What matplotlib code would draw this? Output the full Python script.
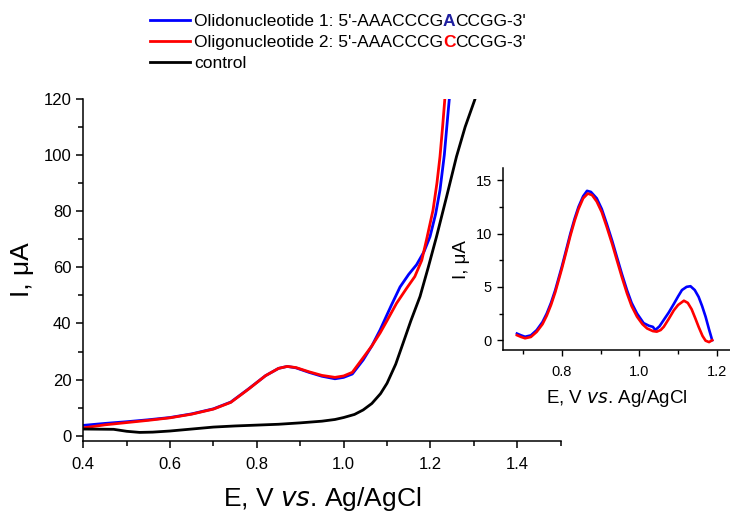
import matplotlib
matplotlib.use("Agg")
import matplotlib.pyplot as plt
from matplotlib.ticker import MultipleLocator

plt.rcParams['font.family'] = ['Liberation Sans', 'DejaVu Sans']

# main chart data (E in V, I in uA)
blue_x = [0.40, 0.45, 0.50, 0.55, 0.60, 0.65, 0.70, 0.74, 0.78, 0.82, 0.85, 0.87, 0.89, 0.92,
          0.95, 0.98, 1.00, 1.02, 1.045, 1.065, 1.084, 1.11, 1.13, 1.15, 1.168, 1.185, 1.199,
          1.212, 1.222, 1.232, 1.240, 1.247]
blue_y = [3.7, 4.4, 5.0, 5.7, 6.5, 7.8, 9.6, 12.0, 16.6, 21.4, 24.0, 24.7, 24.2, 22.6,
          21.2, 20.3, 20.8, 22.0, 27.0, 32.0, 37.7, 46.5, 53.0, 57.5, 60.9, 65.5, 70.9,
          79.0, 87.5, 100.0, 114.0, 126.0]

red_x = [0.40, 0.45, 0.50, 0.55, 0.60, 0.65, 0.70, 0.74, 0.78, 0.82, 0.85, 0.87, 0.89, 0.92,
         0.95, 0.98, 1.00, 1.02, 1.045, 1.065, 1.084, 1.10, 1.122, 1.145, 1.164, 1.18, 1.191,
         1.206, 1.215, 1.222, 1.228, 1.233, 1.237]
red_y = [2.8, 3.9, 4.7, 5.5, 6.4, 7.7, 9.5, 11.9, 16.5, 21.4, 24.0, 24.7, 24.3, 22.8,
         21.5, 20.8, 21.3, 22.6, 27.8, 32.0, 36.6, 41.0, 47.2, 52.5, 56.7, 62.5, 69.8,
         80.4, 90.0, 99.4, 110.0, 119.6, 128.0]

ctrl_x = [0.40, 0.47, 0.50, 0.53, 0.56, 0.60, 0.65, 0.70, 0.75, 0.80, 0.85, 0.90, 0.95, 0.98,
          1.00, 1.025, 1.045, 1.065, 1.085, 1.10, 1.12, 1.137, 1.155, 1.176, 1.195, 1.214,
          1.237, 1.26, 1.28, 1.302]
ctrl_y = [2.4, 2.3, 1.6, 1.2, 1.3, 1.7, 2.4, 3.1, 3.5, 3.8, 4.1, 4.6, 5.2, 5.8,
          6.5, 7.6, 9.2, 11.5, 15.0, 18.7, 25.5, 33.0, 41.0, 49.6, 60.0, 70.9,
          85.0, 99.4, 110.0, 119.6]

# inset data (background subtracted)
in_blue_x = [0.684, 0.695, 0.705, 0.72, 0.735, 0.75, 0.761, 0.772, 0.783, 0.80, 0.81, 0.822,
             0.833, 0.843, 0.855, 0.865, 0.875, 0.89, 0.903, 0.916, 0.93, 0.942, 0.955, 0.968,
             0.98, 0.994, 1.011, 1.025, 1.035, 1.041, 1.052, 1.063, 1.076, 1.089, 1.10, 1.11,
             1.122, 1.132, 1.143, 1.153, 1.162, 1.171, 1.18, 1.188]
in_blue_y = [0.62, 0.45, 0.32, 0.45, 0.94, 1.7, 2.5, 3.5, 4.7, 6.9, 8.3, 10.0,
             11.4, 12.5, 13.5, 14.0, 13.9, 13.3, 12.3, 10.9, 9.3, 7.8, 6.2, 4.7,
             3.5, 2.5, 1.6, 1.35, 1.25, 0.95, 1.3, 1.9, 2.6, 3.4, 4.1, 4.7,
             5.0, 5.06, 4.7, 4.06, 3.2, 2.2, 1.0, 0.0]

in_red_x = [0.684, 0.695, 0.705, 0.72, 0.735, 0.75, 0.761, 0.772, 0.783, 0.80, 0.81, 0.822,
            0.833, 0.843, 0.855, 0.867, 0.878, 0.89, 0.903, 0.916, 0.93, 0.942, 0.955, 0.968,
            0.98, 0.994, 1.008, 1.02, 1.035, 1.045, 1.055, 1.063, 1.076, 1.089, 1.10, 1.115,
            1.125, 1.135, 1.145, 1.153, 1.163, 1.171, 1.18, 1.188]
in_red_y = [0.47, 0.3, 0.18, 0.3, 0.78, 1.5, 2.3, 3.3, 4.5, 6.7, 8.1, 9.8,
            11.2, 12.3, 13.3, 13.75, 13.6, 13.0, 12.0, 10.6, 9.0, 7.5, 5.9, 4.4,
            3.2, 2.2, 1.5, 1.1, 0.85, 0.8, 0.95, 1.25, 2.0, 2.8, 3.3, 3.7,
            3.5, 2.9, 2.0, 1.25, 0.4, -0.05, -0.18, 0.0]

# legend labels, split round the coloured base letter
label_1 = ["Olidonucleotide 1: 5'-AAACCCG", "A", "CCGG-3'"]
label_2 = ["Oligonucleotide 2: 5'-AAACCCG", "C", "CCGG-3'"]
label_3 = "control"

fig = plt.figure(figsize=(7.3, 5.12), dpi=100)

# main axes
ax = fig.add_axes([0.114, 0.139, 0.654, 0.668])
l1, = ax.plot(blue_x, blue_y, color='#0000ff', lw=2.0)
l2, = ax.plot(red_x, red_y, color='#ff0000', lw=2.0)
l3, = ax.plot(ctrl_x, ctrl_y, color='black', lw=2.0)
ax.set_xlim(0.4, 1.5)
ax.set_ylim(-1.8, 120)
ax.spines['top'].set_visible(False)
ax.spines['right'].set_visible(False)
for s in ('left', 'bottom'):
    ax.spines[s].set_linewidth(1.1)
ax.xaxis.set_major_locator(MultipleLocator(0.2))
ax.xaxis.set_minor_locator(MultipleLocator(0.1))
ax.yaxis.set_major_locator(MultipleLocator(20))
ax.yaxis.set_minor_locator(MultipleLocator(10))
ax.xaxis.set_major_formatter(plt.FormatStrFormatter('%.1f'))
ax.tick_params(which='major', direction='out', length=5, width=1.1, labelsize=12)
ax.tick_params(axis='x', which='major', pad=7)
ax.tick_params(which='minor', direction='out', length=3.5, width=1.1)
ax.set_xlabel(r"E, V $\it{vs}$. Ag/AgCl", fontsize=19, labelpad=9)
ax.set_ylabel(u"I, \u03bcA", fontsize=19, labelpad=7)

# inset
axi = fig.add_axes([0.689, 0.316, 0.311, 0.355])
axi.plot(in_blue_x, in_blue_y, color='#0000ff', lw=1.9)
axi.plot(in_red_x, in_red_y, color='#ff0000', lw=1.9)
axi.set_xlim(0.648, 1.234)
axi.set_ylim(-0.94, 16.1)
axi.patch.set_alpha(0)
axi.spines['top'].set_visible(False)
axi.spines['right'].set_visible(False)
for s in ('left', 'bottom'):
    axi.spines[s].set_linewidth(1.1)
axi.xaxis.set_major_locator(MultipleLocator(0.2))
axi.xaxis.set_minor_locator(MultipleLocator(0.1))
axi.yaxis.set_major_locator(MultipleLocator(5))
axi.yaxis.set_minor_locator(MultipleLocator(2.5))
axi.xaxis.set_major_formatter(plt.FormatStrFormatter('%.1f'))
axi.tick_params(which='major', direction='out', length=4.5, width=1.0, labelsize=10.5)
axi.tick_params(axis='x', which='major', pad=6.5)
axi.tick_params(which='minor', direction='out', length=3, width=1.0)
axi.set_xlabel(r"E, V $\it{vs}$. Ag/AgCl", fontsize=13.5, labelpad=6)
axi.set_ylabel(u"I, \u03bcA", fontsize=13.5, labelpad=4)

leg = fig.legend([l1, l2, l3], [label_1[0], label_2[0], label_3],
                 loc='upper left', bbox_to_anchor=(0.205, 0.972), frameon=False,
                 fontsize=12.5, handlelength=2.3, handletextpad=0.25,
                 labelspacing=0.33, borderpad=0, borderaxespad=0)

# append the coloured letter and the rest of each label after the legend text
fig.canvas.draw()
renderer = fig.canvas.get_renderer()
W, H = fig.bbox.width, fig.bbox.height
texts = leg.get_texts()
for txt, parts, col in [(texts[0], label_1, '#1f1fa0'), (texts[1], label_2, '#ff0000')]:
    bb = txt.get_window_extent(renderer)
    t_mid = fig.text(bb.x1 / W, bb.y0 / H, parts[1], color=col, fontweight='bold',
                     fontsize=12.5, va='bottom', ha='left')
    bb2 = t_mid.get_window_extent(renderer)
    fig.text(bb2.x1 / W, bb.y0 / H, parts[2], color='black',
             fontsize=12.5, va='bottom', ha='left')

fig.savefig("out.png", dpi=100)
